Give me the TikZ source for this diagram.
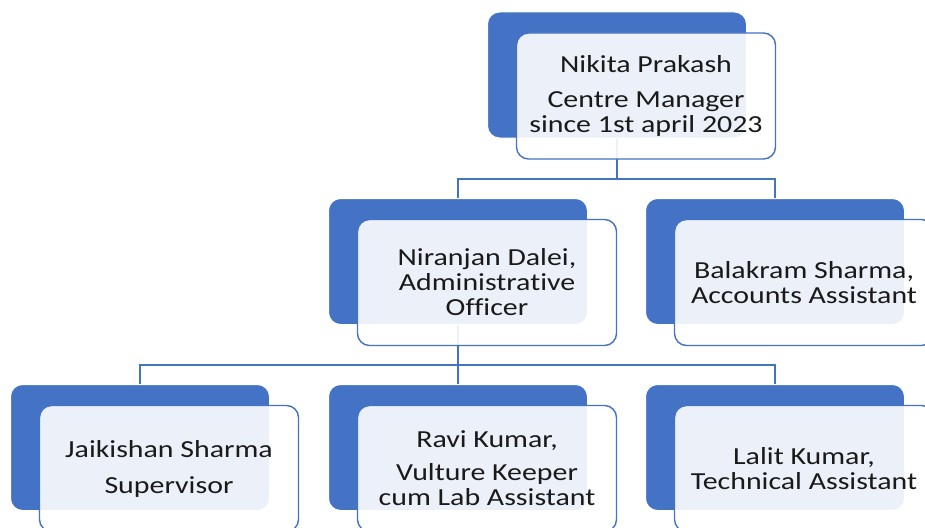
\documentclass[tikz,border=0pt]{standalone}
\usepackage{fontspec}
\setmainfont{Carlito}[FakeStretch=1.22, Ligatures=NoCommon]
\usepackage{xcolor}
\usetikzlibrary{positioning}

\definecolor{smartblue}{HTML}{4472C4}
\definecolor{inktext}{HTML}{1A1A1A}

\begin{document}
\begin{tikzpicture}[
    x=1pt, y=1pt,
    backbox/.style={rectangle, rounded corners=12pt, draw=white, line width=1pt, fill=smartblue, minimum width=259pt, minimum height=126pt},
    frontbox/.style={rectangle, rounded corners=12pt, draw=smartblue, line width=1.4pt, fill=white, fill opacity=0.9, text opacity=1, text=inktext, minimum width=259pt, minimum height=126pt, align=center, font=\fontsize{24.5}{25}\selectfont},
    link/.style={draw=smartblue, line width=2pt},
]

% === FRAME: 925 x 527 ===
\useasboundingbox (0,0) rectangle (925,-527);
\clip (0,0) rectangle (925,-527);

% Row 0: manager (back plates)
\node[backbox] (mgrback) at (617, -75) {};

% Row 1: office staff
\node[backbox] (adminback) at (458, -261.5) {};
\node[backbox] (acctback)  at (775, -261.5) {};

% Row 2: field staff
\node[backbox] (supvback)   at (140, -447.5) {};
\node[backbox] (keeperback) at (458, -447.5) {};
\node[backbox] (techback)   at (775, -447.5) {};

% =======================================================================
% CONNECTORS - drawn under the front cards
% =======================================================================
\draw[link] (mgrback.south) -- ++(0,-40) -| (adminback.north);
\draw[link] (mgrback.south) -- ++(0,-40) -| (acctback.north);

\draw[link] (adminback.south) -- ++(0,-40) -| (supvback.north);
\draw[link] (adminback.south) -- (keeperback.north);
\draw[link] (adminback.south) -- ++(0,-40) -| (techback.north);

% =======================================================================
% FRONT CARDS (shifted down-right)
% =======================================================================
\node[frontbox] (mgr) at (646, -96) {Nikita Prakash\\[10pt] Centre Manager\\ since 1st april 2023};

\node[frontbox] (admin) at (487, -282.5) {Niranjan Dalei,\\ Administrative\\ Officer};
\node[frontbox] (acct)  at (804, -282.5) {Balakram Sharma,\\ Accounts Assistant};

\node[frontbox] (supv)   at (169, -468.5) {Jaikishan Sharma\\[11pt] Supervisor};
\node[frontbox] (keeper) at (487, -468.5) {Ravi Kumar,\\[8pt] Vulture Keeper\\ cum Lab Assistant};
\node[frontbox] (tech)   at (804, -468.5) {Lalit Kumar,\\ Technical Assistant};

\end{tikzpicture}
\end{document}
